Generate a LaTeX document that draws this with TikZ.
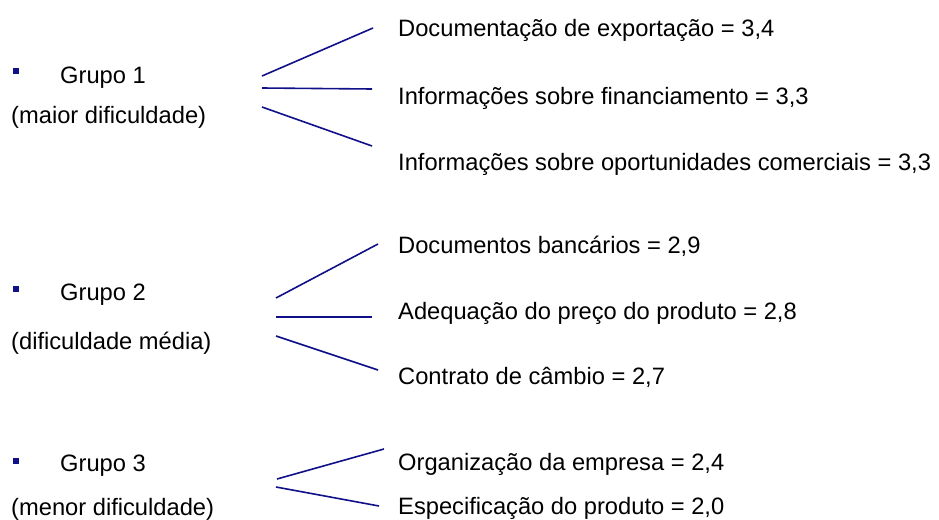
\documentclass[tikz,border=0pt]{standalone}
\usepackage{fontspec}
\setmainfont{Liberation Sans}
\definecolor{linkblue}{RGB}{16,16,136}
\begin{document}
\begin{tikzpicture}[x=1pt,y=-1pt,
  lbl/.style={anchor=base west,inner sep=0pt,font=\fontsize{23.7}{28}\selectfont},
  link/.style={draw=linkblue,line width=1.6pt},
  bul/.style={fill=linkblue,draw=none,minimum size=6.3pt,inner sep=0pt}]
\useasboundingbox (0,0) rectangle (939,519);
% left labels
\node[bul] (b1) at (16,71) {};
\node[lbl] (g1) at (60,83) {Grupo 1};
\node[lbl] (d1) at (11,123) {(maior dificuldade)};
\node[bul] (b2) at (16,289) {};
\node[lbl] (g2) at (60,300) {Grupo 2};
\node[lbl] (d2) at (11,349) {(dificuldade média)};
\node[bul] (b3) at (16,461) {};
\node[lbl] (g3) at (60,471) {Grupo 3};
\node[lbl] (d3) at (11,515) {(menor dificuldade)};
% right labels
\node[lbl] (r11) at (398,37) {Documentação de exportação = 3,4};
\node[lbl] (r12) at (398,104) {Informações sobre financiamento = 3,3};
\node[lbl] (r13) at (398,170) {Informações sobre oportunidades comerciais = 3,3};
\node[lbl] (r21) at (398,253) {Documentos bancários = 2,9};
\node[lbl] (r22) at (398,319) {Adequação do preço do produto = 2,8};
\node[lbl] (r23) at (398,384) {Contrato de câmbio = 2,7};
\node[lbl] (r31) at (398,470) {Organização da empresa = 2,4};
\node[lbl] (r32) at (398,514) {Especificação do produto = 2,0};
% connector ends
\coordinate (s11) at (262,76);  \coordinate (e11) at (373,28);
\coordinate (s12) at (262,88);  \coordinate (e12) at (372,89);
\coordinate (s13) at (262,107); \coordinate (e13) at (372,146);
\coordinate (s21) at (276,298); \coordinate (e21) at (378,244);
\coordinate (s22) at (276,317); \coordinate (e22) at (372,317);
\coordinate (s23) at (276,336); \coordinate (e23) at (378,370);
\coordinate (s31) at (277,479); \coordinate (e31) at (384,449);
\coordinate (s32) at (276,487); \coordinate (e32) at (379,506);
\foreach \k in {11,12,13,21,22,23,31,32}
  \draw[link] (s\k) -- (e\k);
\end{tikzpicture}
\end{document}
